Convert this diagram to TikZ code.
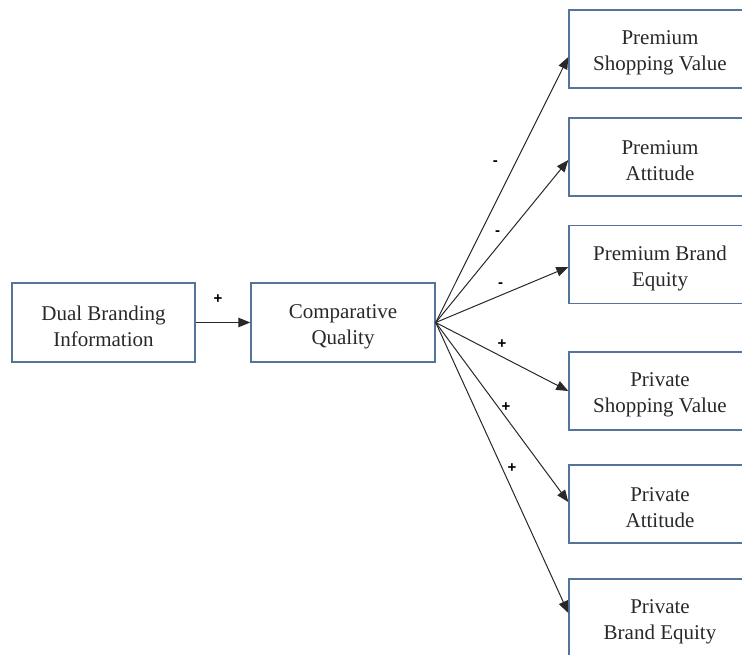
\documentclass[tikz,border=0pt]{standalone}
\usepackage{fontspec}
\setmainfont{Liberation Serif}
\setsansfont{Liberation Sans}
\usetikzlibrary{arrows.meta}
\definecolor{boxblue}{RGB}{84,116,154}
\definecolor{inkgray}{RGB}{40,40,40}
\tikzset{>/.tip={Triangle[length=12pt,width=9.5pt]},
  factor/.style={draw=boxblue, line width=1.4pt, minimum width=182pt, minimum height=78pt,
    align=center, inner sep=0pt, text height=48pt, text=inkgray, font=\fontsize{21}{26}\selectfont},
  link/.style={->, draw=inkgray, line width=1pt},
  sign/.style={text=black, font=\sffamily\bfseries\fontsize{15}{15}\selectfont}}

\begin{document}
\begin{tikzpicture}[x=1pt,y=-1pt]
\clip (0,0) rectangle (742,654);
\node[factor, minimum width=183pt, minimum height=79pt] (DBI) at (103.5,322.5) {Dual Branding\\Information};
\node[factor, minimum width=184pt, minimum height=79pt] (CQ) at (343,322.5) {Comparative\\Quality};

\node[factor] (PSV) at (660,49)  {Premium\\Shopping Value};
\node[factor] (PA)  at (660,157) {Premium\\Attitude};
\node[factor] (PBE) at (660,264.5) {Premium Brand\\Equity};
\node[factor] (RSV) at (660,391) {Private\\Shopping Value};
\node[factor] (RA)  at (660,504) {Private\\Attitude};
\node[factor] (RBE) at (660,618) {Private\\Brand Equity};

\path (DBI) edge[link] node[sign,pos=0.41,yshift=23pt] {+} (CQ);
\path (CQ.east) edge[link] node[sign,pos=0.6,xshift=-20pt] {-} ([yshift=-8pt]PSV.west);
\path (CQ.east) edge[link] node[sign,pos=0.55,xshift=-11pt] {-} ([yshift=-3pt]PA.west);
\path (CQ.east) edge[link] node[sign,pos=0.49,yshift=10pt] {-} ([yshift=-2.5pt]PBE.west);
\path (CQ.east) edge[link] node[sign,pos=0.5,yshift=13pt] {+} (RSV.west);
\path (CQ.east) edge[link] node[sign,pos=0.47,xshift=8pt] {+} ([yshift=2pt]RA.west);
\path (CQ.east) edge[link] node[sign,pos=0.5,xshift=10pt] {+} ([yshift=5pt]RBE.west);
\end{tikzpicture}
\end{document}
